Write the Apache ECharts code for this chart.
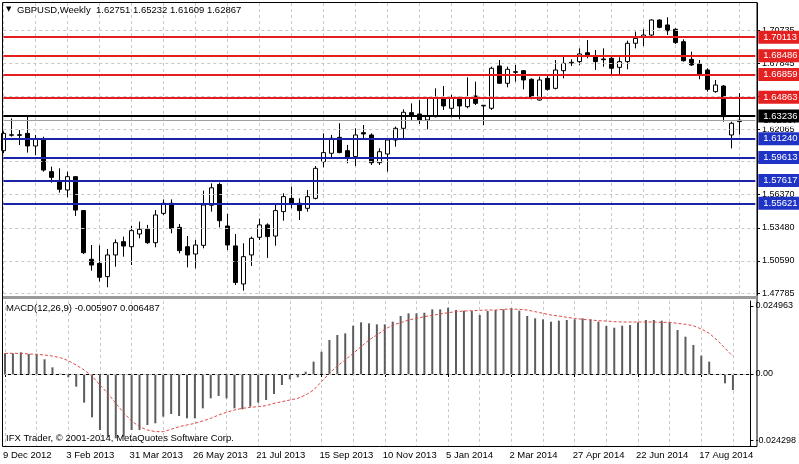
<!DOCTYPE html>
<html><head><meta charset="utf-8">
<script src="https://cdn.jsdelivr.net/npm/echarts@6/dist/echarts.min.js"></script>
<style>html,body{margin:0;padding:0;background:#fff}#c{width:799px;height:464px}</style>
</head><body><div id="c"></div>
<script>
// ---------- data ----------
const symbolTitle = 'GBPUSD,Weekly';
const startDate = [2012, 11, 9]; // first weekly bar: 9 Dec 2012
const tickLabels = ['9 Dec 2012','3 Feb 2013','31 Mar 2013','26 May 2013','21 Jul 2013','15 Sep 2013',
  '10 Nov 2013','5 Jan 2014','2 Mar 2014','27 Apr 2014','22 Jun 2014','17 Aug 2014'];
const opens = [1.6021,1.6155,1.6160,1.6172,1.6062,1.6120,1.5838,1.5759,1.5678,1.5794,
1.5498,1.5073,1.5038,1.4922,1.5111,1.5227,1.5183,1.5294,1.5335,1.5218,
1.5474,1.5562,1.5352,1.5183,1.5119,1.5195,1.5545,1.5726,1.5364,1.5190,
1.4858,1.5111,1.5265,1.5373,1.5276,1.5489,1.5605,1.5562,1.5518,1.5605,
1.5925,1.5998,1.6137,1.6021,1.5969,1.6178,1.6158,1.5916,1.5992,1.6114,
1.6216,1.6353,1.6341,1.6289,1.6318,1.6478,1.6391,1.6487,1.6405,1.6498,
1.6411,1.6391,1.6760,1.6609,1.6710,1.6719,1.6644,1.6463,1.6652,1.6565,
1.6719,1.6786,1.6798,1.6876,1.6841,1.6821,1.6827,1.6748,1.6798,1.6958,
1.7016,1.7030,1.7161,1.7118,1.7080,1.6972,1.6818,1.6777,1.6725,1.6536,
1.6585,1.6158,1.62751];
const closes = [1.6172,1.6160,1.6155,1.6062,1.6120,1.5852,1.5788,1.5684,1.5794,1.5503,
1.5131,1.5023,1.4916,1.5111,1.5218,1.5189,1.5323,1.5335,1.5218,1.5460,
1.5562,1.5343,1.5149,1.5111,1.5198,1.5547,1.5697,1.5410,1.5198,1.4871,
1.5096,1.5256,1.5373,1.5271,1.5498,1.5620,1.5562,1.5498,1.5620,1.5867,
1.6004,1.6129,1.6004,1.5963,1.6158,1.6167,1.5916,1.6012,1.6114,1.6216,
1.6356,1.6332,1.6289,1.6324,1.6478,1.6411,1.6478,1.6411,1.6478,1.6434,
1.6417,1.6740,1.6609,1.6731,1.6705,1.6638,1.6478,1.6638,1.6556,1.6725,
1.6783,1.6792,1.6865,1.6847,1.6798,1.6815,1.6740,1.6798,1.6958,1.7001,
1.7030,1.7161,1.7097,1.7068,1.6964,1.6806,1.6769,1.6681,1.6556,1.6594,
1.6318,1.6260,1.62867];
const lows = [1.6000,1.6143,1.6070,1.6004,1.5983,1.5838,1.5742,1.5655,1.5614,1.5451,
1.5119,1.4974,1.4878,1.4829,1.5009,1.5096,1.5023,1.5256,1.5207,1.5178,
1.5460,1.5300,1.5125,1.5003,1.4994,1.5169,1.5489,1.5352,1.5154,1.4849,
1.4800,1.5015,1.5242,1.5085,1.5192,1.5410,1.5518,1.5416,1.5489,1.5596,
1.5876,1.5963,1.5998,1.5911,1.5887,1.6114,1.5896,1.5896,1.5838,1.6056,
1.6129,1.6289,1.6254,1.6207,1.6312,1.6376,1.6312,1.6295,1.6391,1.6420,
1.6245,1.6376,1.6603,1.6574,1.6623,1.6556,1.6469,1.6457,1.6545,1.6556,
1.6652,1.6760,1.6769,1.6827,1.6725,1.6754,1.6681,1.6690,1.6731,1.6914,
1.6934,1.7016,1.7089,1.7030,1.6952,1.6798,1.6760,1.6644,1.6536,1.6527,
1.6274,1.6041,1.61609];
const highs = [1.6190,1.6303,1.6201,1.6332,1.6158,1.6143,1.5882,1.5867,1.5838,1.5800,
1.5503,1.5198,1.5195,1.5163,1.5247,1.5271,1.5364,1.5402,1.5373,1.5503,
1.5596,1.5596,1.5381,1.5277,1.5242,1.5672,1.5736,1.5742,1.5469,1.5294,
1.5213,1.5271,1.5428,1.5387,1.5556,1.5649,1.5707,1.5605,1.5678,1.5887,
1.6172,1.6158,1.6260,1.6071,1.6216,1.6245,1.6172,1.6041,1.6129,1.6231,
1.6382,1.6434,1.6463,1.6478,1.6565,1.6585,1.6507,1.6492,1.6661,1.6623,
1.6420,1.6754,1.6812,1.6754,1.6769,1.6725,1.6652,1.6667,1.6673,1.6812,
1.6841,1.6818,1.6914,1.6987,1.6900,1.6914,1.6841,1.6836,1.6981,1.7060,
1.7080,1.7167,1.7167,1.7185,1.7089,1.6993,1.6885,1.6812,1.6740,1.6638,
1.6594,1.6274,1.65232];
const macdMain = [0.00758,0.00758,0.00795,0.00734,0.00722,0.00538,0.00245,0.0001,-0.00122,-0.00465,
-0.01052,-0.01590,-0.02055,-0.02299,-0.02360,-0.02299,-0.02055,-0.02055,-0.01871,-0.01810,
-0.01565,-0.01468,-0.01541,-0.01627,-0.01627,-0.01260,-0.00893,-0.00807,-0.00893,-0.01260,
-0.01296,-0.01199,-0.01052,-0.00954,-0.00734,-0.00404,-0.00196,-0.00122,0.00086,0.00453,
0.00819,0.01247,0.01431,0.01492,0.01773,0.01896,0.01859,0.01822,0.01822,0.01920,
0.02128,0.02226,0.02226,0.02250,0.02373,0.02373,0.02434,0.02348,0.02324,0.02311,
0.02165,0.02311,0.02348,0.02373,0.02409,0.02324,0.02128,0.02042,0.02006,0.01920,
0.01957,0.01981,0.02006,0.02042,0.02006,0.01920,0.01761,0.01700,0.01773,0.01798,
0.01896,0.01981,0.01981,0.01957,0.01896,0.01614,0.01370,0.01064,0.00673,0.00453,
-0.0001,-0.00342,-0.005907];
const macdSignal = [0.00758,0.00758,0.00758,0.00734,0.00722,0.00697,0.00660,0.00599,0.00489,0.00330,
0.00147,-0.00073,-0.00404,-0.00709,-0.01076,-0.01419,-0.01724,-0.01932,-0.02055,-0.02116,
-0.02116,-0.02030,-0.01932,-0.01871,-0.01810,-0.01724,-0.01627,-0.01504,-0.01406,-0.01321,
-0.01260,-0.01223,-0.01199,-0.01162,-0.01076,-0.01015,-0.00954,-0.00893,-0.00770,-0.00587,
-0.00281,0.00024,0.00294,0.00514,0.00758,0.01003,0.01247,0.01431,0.01639,0.01798,
0.01883,0.01981,0.02042,0.02104,0.02152,0.02201,0.02250,0.02287,0.02311,0.02324,
0.02336,0.02348,0.02348,0.02373,0.02385,0.02373,0.02348,0.02287,0.02226,0.02165,
0.02128,0.02079,0.02042,0.02006,0.01981,0.01957,0.01945,0.01920,0.01908,0.01908,
0.01908,0.01908,0.01908,0.01896,0.01896,0.01859,0.01822,0.01773,0.01651,0.01492,
0.01247,0.00942,0.006487];
const priceTicks = [1.47785,1.50590,1.53480,1.56370,1.59260,1.62065,1.64955,1.67845,1.70735];
const macdTicks = [0.024963, 0, -0.024298];
const resistanceLevels = [1.70113,1.68486,1.66859,1.64863];
const pivotLevels = [1.63236];
const supportLevels = [1.61240,1.59613,1.57617,1.55621];
const bidPrice = 1.62867;

// ---------- build ----------
const N = 95; // bars + empty space on the right
const cats = [];
const t0 = Date.UTC(startDate[0], startDate[1], startDate[2]);
for (let i = 0; i < N; i++) cats.push(new Date(t0 + i * 7 * 864e5).toISOString().slice(0, 10));
const candles = opens.map((o, i) => [o, closes[i], lows[i], highs[i]]);
const last = opens.length - 1;

const FONT = 'Liberation Sans';
const GL = 3.3, GW = 752;
const gridLine = {color: '#c8c8c8', type: [3, 3], width: 1};

function levelLine(v, line, bg) {
  return {yAxis: v, lineStyle: {color: line, width: 2, type: 'solid'},
    label: {show: true, position: 'end', distance: 3, formatter: () => v.toFixed(5),
      color: '#fff', backgroundColor: bg, padding: [2, 5, 1, 5], fontSize: 9.5, fontFamily: FONT}};
}
const levelData = []
  .concat(resistanceLevels.map(v => levelLine(v, '#e41e1e', '#e42020')))
  .concat(pivotLevels.map(v => levelLine(v, '#000000', '#000000')))
  .concat(supportLevels.map(v => levelLine(v, '#1a24a8', '#1f33c4')));

const chart = echarts.init(document.getElementById('c'), null, {renderer: 'canvas', width: 799, height: 464});
chart.setOption({
  animation: false,
  backgroundColor: '#ffffff',
  textStyle: {fontFamily: FONT},
  grid: [
    {left: GL, top: 3, width: GW, height: 292, show: false},
    {left: GL, top: 301, width: GW, height: 145, show: false}
  ],
  xAxis: [
    {type: 'category', gridIndex: 0, data: cats, boundaryGap: false,
      axisLine: {show: false}, axisTick: {show: false}, axisLabel: {show: false},
      splitLine: {show: true, interval: (i) => i % 4 === 0, lineStyle: gridLine}},
    {type: 'category', gridIndex: 1, data: cats, boundaryGap: false,
      axisLine: {show: true, lineStyle: {color: '#000', width: 1}},
      axisTick: {show: true, interval: (i) => i % 8 === 0, length: 3, lineStyle: {color: '#000'}},
      axisLabel: {show: true, interval: (i) => i % 8 === 0, formatter: (v, i) => tickLabels[i / 8] || '',
        align: 'left', color: '#000', fontSize: 9.5, fontFamily: FONT, margin: 4, padding: [0, 0, 0, -2]},
      splitLine: {show: true, interval: (i) => i % 4 === 0, lineStyle: gridLine}}
  ],
  yAxis: [
    {type: 'value', gridIndex: 0, position: 'right', offset: 1.7, min: 1.47616, max: 1.73096,
      axisLine: {show: true, lineStyle: {color: '#000', width: 1}},
      axisTick: {show: true, customValues: priceTicks, length: 3, lineStyle: {color: '#000'}},
      axisLabel: {show: true, customValues: priceTicks, formatter: (v) => Number(v).toFixed(5),
        color: '#000', fontSize: 9, fontFamily: FONT, margin: 5},
      splitLine: {show: false}},
    {type: 'value', gridIndex: 1, position: 'right', offset: 1.7, min: -0.02642, max: 0.02679,
      axisLine: {show: true, lineStyle: {color: '#000', width: 1}},
      axisTick: {show: true, customValues: macdTicks, length: 3, lineStyle: {color: '#000'}},
      axisLabel: {show: true, customValues: macdTicks, formatter: (v) => (v === 0 ? '0.00' : Number(v).toFixed(6)),
        color: '#000', fontSize: 9, fontFamily: FONT, margin: 5},
      splitLine: {show: false}}
  ],
  series: [
    {type: 'line', xAxisIndex: 0, yAxisIndex: 0, data: [], z: 1, silent: true,
      markLine: {silent: true, precision: 6, symbol: ['none', 'none'], label: {show: false}, lineStyle: gridLine,
        data: priceTicks.map(v => ({yAxis: v}))}},
    {type: 'line', xAxisIndex: 0, yAxisIndex: 0, data: [], z: 2, silent: true,
      markLine: {silent: true, precision: 6, symbol: ['none', 'none'], lineStyle: {color: '#a0a0a0', width: 1, type: 'solid'},
        label: {show: true, position: 'end', distance: 3, formatter: () => bidPrice.toFixed(5), color: '#000',
          backgroundColor: '#fff', padding: [2, 5, 1, 5], fontSize: 9.5, fontFamily: FONT},
        data: [{yAxis: bidPrice}]}},
    {type: 'candlestick', xAxisIndex: 0, yAxisIndex: 0, data: candles, barWidth: 4, z: 3,
      itemStyle: {color: '#ffffff', color0: '#000000', borderColor: '#000000', borderColor0: '#000000',
        borderColorDoji: '#000000', borderWidth: 1}},
    {type: 'line', xAxisIndex: 0, yAxisIndex: 0, data: [], z: 5, silent: true,
      markLine: {silent: true, precision: 6, symbol: ['none', 'none'], data: levelData}},
    {type: 'line', xAxisIndex: 1, yAxisIndex: 1, data: [], z: 1, silent: true,
      markLine: {silent: true, precision: 6, symbol: ['none', 'none'], label: {show: false}, lineStyle: gridLine,
        data: [{yAxis: 0}]}},
    {type: 'bar', xAxisIndex: 1, yAxisIndex: 1, data: macdMain, barWidth: 2, z: 3,
      itemStyle: {color: '#5c5c5c'}},
    {type: 'line', xAxisIndex: 1, yAxisIndex: 1, data: macdSignal, z: 4, showSymbol: false, symbol: 'none',
      lineStyle: {color: '#e04848', width: 1, type: [3, 2]}}
  ],
  graphic: [
    {type: 'rect', z: 10, silent: true, shape: {x: 2.5, y: 2.5, width: 754.5, height: 444},
      style: {fill: null, stroke: '#000', lineWidth: 1}},
    {type: 'rect', z: 10, silent: true, shape: {x: 3, y: 296, width: 754, height: 3},
      style: {fill: '#9a9a9a'}},
    {type: 'text', z: 10, left: 6, top: 6, style: {text: '\u25BC', fontSize: 7, fill: '#000', fontFamily: 'DejaVu Sans'}},
    {type: 'text', z: 10, left: 17, top: 5, style: {
      text: symbolTitle + '  ' + [opens[last], highs[last], lows[last], closes[last]].map(v => v.toFixed(5)).join(' '),
      fontSize: 9.5, fill: '#000', fontFamily: FONT}},
    {type: 'text', z: 10, left: 6, top: 303, style: {
      text: 'MACD(12,26,9) ' + macdMain[last].toFixed(6) + ' ' + macdSignal[last].toFixed(6),
      fontSize: 9.5, fill: '#000', fontFamily: FONT}},
    {type: 'text', z: 10, left: 6, top: 433, style: {
      text: 'IFX Trader, \u00A9 2001-2014, MetaQuotes Software Corp.', fontSize: 9.5, fill: '#000', fontFamily: FONT}}
  ]
});
</script></body></html>
